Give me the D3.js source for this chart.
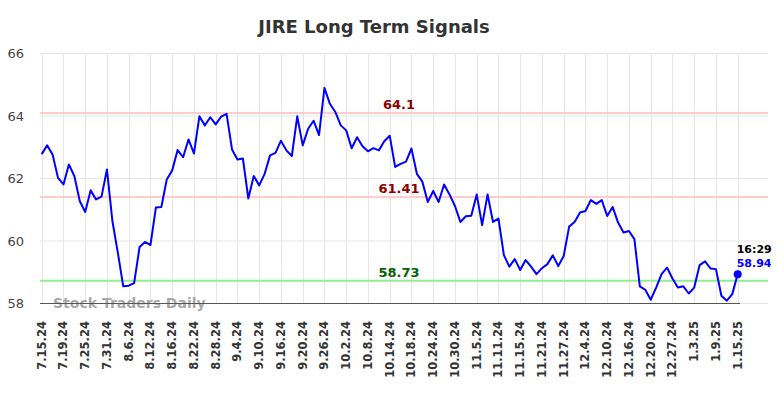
<!DOCTYPE html>
<html>
<head>
<meta charset="utf-8">
<script src="https://cdn.jsdelivr.net/npm/d3@7"></script>
<style>
  body { margin: 0; background: #fff; }
  svg { display: block; font-family: "DejaVu Sans", sans-serif; }
</style>
</head>
<body>
<script>
var dates = [
  "7.15.24","7.16.24","7.17.24","7.18.24","7.19.24","7.22.24","7.23.24","7.24.24","7.25.24","7.26.24","7.29.24","7.30.24","7.31.24",
  "8.1.24","8.2.24","8.5.24","8.6.24","8.7.24","8.8.24","8.9.24","8.12.24","8.13.24","8.14.24","8.15.24","8.16.24","8.19.24","8.20.24","8.21.24","8.22.24","8.23.24","8.26.24","8.27.24","8.28.24","8.29.24","8.30.24",
  "9.3.24","9.4.24","9.5.24","9.6.24","9.9.24","9.10.24","9.11.24","9.12.24","9.13.24","9.16.24","9.17.24","9.18.24","9.19.24","9.20.24","9.23.24","9.24.24","9.25.24","9.26.24","9.27.24","9.30.24",
  "10.1.24","10.2.24","10.3.24","10.4.24","10.7.24","10.8.24","10.9.24","10.10.24","10.11.24","10.14.24","10.15.24","10.16.24","10.17.24","10.18.24","10.21.24","10.22.24","10.23.24","10.24.24","10.25.24","10.28.24","10.29.24","10.30.24","10.31.24",
  "11.1.24","11.4.24","11.5.24","11.6.24","11.7.24","11.8.24","11.11.24","11.12.24","11.13.24","11.14.24","11.15.24","11.18.24","11.19.24","11.20.24","11.21.24","11.22.24","11.25.24","11.26.24","11.27.24","11.29.24",
  "12.2.24","12.3.24","12.4.24","12.5.24","12.6.24","12.9.24","12.10.24","12.11.24","12.12.24","12.13.24","12.16.24","12.17.24","12.18.24","12.19.24","12.20.24","12.23.24","12.24.24","12.26.24","12.27.24","12.30.24","12.31.24",
  "1.2.25","1.3.25","1.6.25","1.7.25","1.8.25","1.9.25","1.10.25","1.13.25","1.14.25","1.15.25"
];

var prices = [
  62.78, 63.06, 62.77, 62.02, 61.81, 62.45, 62.08, 61.28, 60.93, 61.62, 61.33, 61.42, 62.29,
  60.64, 59.63, 58.55, 58.57, 58.65, 59.81, 59.97, 59.87, 61.07, 61.09, 61.97, 62.26, 62.91, 62.68, 63.25, 62.80, 63.99, 63.70, 63.96, 63.73, 63.98, 64.07,
  62.93, 62.61, 62.64, 61.36, 62.08, 61.78, 62.15, 62.74, 62.82, 63.21, 62.90, 62.72, 63.99, 63.06, 63.59, 63.85, 63.39, 64.90, 64.39, 64.13,
  63.70, 63.54, 62.97, 63.32, 63.03, 62.87, 62.97, 62.90, 63.19, 63.37, 62.37, 62.47, 62.54, 62.96, 62.15, 61.90, 61.25, 61.60, 61.25, 61.81, 61.49, 61.12, 60.61,
  60.79, 60.81, 61.49, 60.51, 61.49, 60.61, 60.72, 59.55, 59.18, 59.42, 59.07, 59.39, 59.18, 58.94, 59.13, 59.26, 59.54, 59.20, 59.52, 60.46,
  60.61, 60.91, 60.96, 61.31, 61.19, 61.31, 60.80, 61.09, 60.59, 60.27, 60.32, 60.06, 58.55, 58.44, 58.12, 58.51, 58.94, 59.15, 58.80, 58.51, 58.55,
  58.32, 58.51, 59.23, 59.35, 59.12, 59.10, 58.25, 58.09, 58.30, 58.94
];

var yTicks = [58, 60, 62, 64, 66];
var levels = [
  {value: 64.1, label: "64.1", line: "#ffcccc", text: "#8b0000"},
  {value: 61.41, label: "61.41", line: "#ffcccc", text: "#8b0000"},
  {value: 58.73, label: "58.73", line: "#90ee90", text: "#006400"}
];
var lastTime = "16:29";

var width = 784, height = 398;
var plotLeft = 40, plotRight = 768, plotTop = 53.5, plotBottom = 303.5;

var svg = d3.select("body").append("svg")
    .attr("width", width)
    .attr("height", height);

var x = d3.scalePoint()
    .domain(dates)
    .range([41.7, 737.7]);

var y = d3.scaleLinear()
    .domain([58, 66])
    .range([plotBottom, plotTop]);

var tickDates = dates.filter(function(d, i) { return i % 4 === 0; });

// vertical grid
svg.append("g")
    .selectAll("line")
    .data(tickDates)
    .enter()
    .append("line")
    .attr("x1", function(d) { return Math.round(x(d)) + 0.5; })
    .attr("x2", function(d) { return Math.round(x(d)) + 0.5; })
    .attr("y1", plotTop)
    .attr("y2", plotBottom)
    .attr("stroke", "#e6e6e6")
    .attr("stroke-width", 1);

// horizontal grid
svg.append("g")
    .selectAll("line")
    .data(yTicks)
    .enter()
    .append("line")
    .attr("x1", plotLeft)
    .attr("x2", plotRight)
    .attr("y1", function(d) { return y(d); })
    .attr("y2", function(d) { return y(d); })
    .attr("stroke", "#e6e6e6")
    .attr("stroke-width", 1);

// y labels
svg.append("g")
    .selectAll("text")
    .data(yTicks)
    .enter()
    .append("text")
    .attr("x", 24)
    .attr("y", function(d) { return y(d); })
    .attr("dy", "0.35em")
    .attr("text-anchor", "end")
    .attr("font-size", 13)
    .attr("fill", "#444")
    .text(function(d) { return d; });

// x labels
svg.append("g")
    .selectAll("text")
    .data(tickDates)
    .enter()
    .append("text")
    .attr("transform", function(d) {
        return "translate(" + (x(d) + 4) + ",321) rotate(-90)";
    })
    .attr("text-anchor", "end")
    .attr("font-size", 11.5)
    .attr("font-weight", "bold")
    .attr("fill", "#333")
    .text(function(d) { return d; });

// support / resistance lines
svg.append("g")
    .selectAll("line")
    .data(levels)
    .enter()
    .append("line")
    .attr("x1", plotLeft)
    .attr("x2", plotRight)
    .attr("y1", function(d) { return y(d.value); })
    .attr("y2", function(d) { return y(d.value); })
    .attr("stroke", function(d) { return d.line; })
    .attr("stroke-width", 2);

svg.append("g")
    .selectAll("text")
    .data(levels)
    .enter()
    .append("text")
    .attr("x", 399)
    .attr("y", function(d) { return y(d.value) - 4; })
    .attr("text-anchor", "middle")
    .attr("font-size", 13)
    .attr("font-weight", "bold")
    .attr("fill", function(d) { return d.text; })
    .text(function(d) { return d.label; });

// watermark
svg.append("text")
    .attr("x", 53)
    .attr("y", 307.5)
    .attr("font-size", 14)
    .attr("font-weight", "bold")
    .attr("fill", "#999")
    .attr("fill-opacity", 0.85)
    .text("Stock Traders Daily");

// bottom axis line
svg.append("line")
    .attr("x1", plotLeft)
    .attr("x2", 740)
    .attr("y1", plotBottom)
    .attr("y2", plotBottom)
    .attr("stroke", "#555")
    .attr("stroke-width", 1.2);

// price line
var line = d3.line()
    .x(function(d, i) { return x(dates[i]); })
    .y(function(d) { return y(d); });

svg.append("path")
    .datum(prices)
    .attr("d", line)
    .attr("fill", "none")
    .attr("stroke", "#0000ff")
    .attr("stroke-width", 2)
    .attr("stroke-linejoin", "round");

var lastI = prices.length - 1;
svg.append("circle")
    .attr("cx", x(dates[lastI]))
    .attr("cy", y(prices[lastI]))
    .attr("r", 4)
    .attr("fill", "#0000ff");

svg.append("text")
    .attr("x", x(dates[lastI]) - 1)
    .attr("y", 253)
    .attr("font-size", 11)
    .attr("font-weight", "bold")
    .attr("fill", "#000")
    .text(lastTime);

svg.append("text")
    .attr("x", x(dates[lastI]) - 1)
    .attr("y", 267)
    .attr("font-size", 11)
    .attr("font-weight", "bold")
    .attr("fill", "#0000ff")
    .text(d3.format(".2f")(prices[lastI]));

// title
svg.append("text")
    .attr("x", 374)
    .attr("y", 33)
    .attr("text-anchor", "middle")
    .attr("font-size", 18)
    .attr("font-weight", "bold")
    .attr("fill", "#333")
    .text("JIRE Long Term Signals");
</script>
</body>
</html>
